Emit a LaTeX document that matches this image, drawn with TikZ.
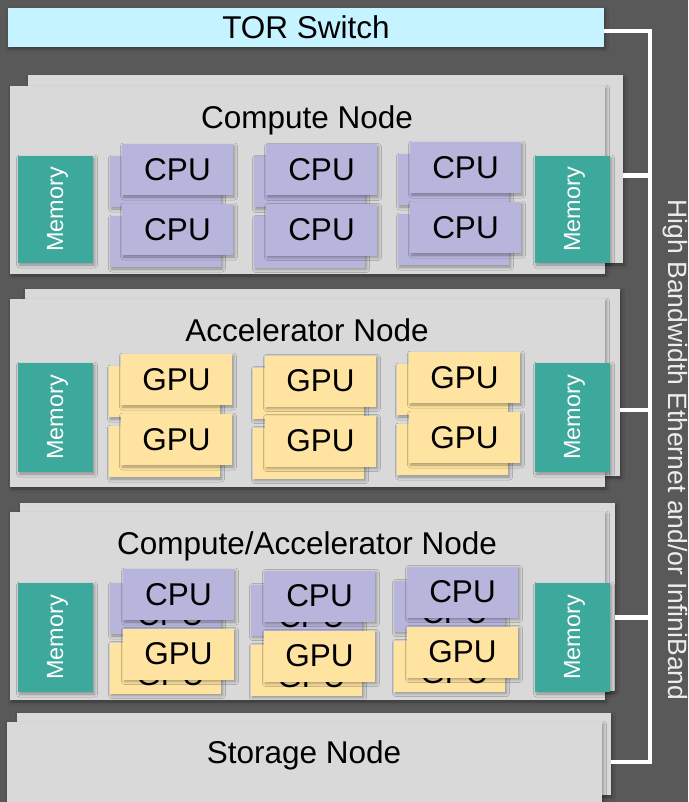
\documentclass[tikz,border=0pt]{standalone}
\usepackage{fontspec}
\setmainfont{Liberation Sans}
\usetikzlibrary{shadows.blur}
\definecolor{bg}{HTML}{595959}
\definecolor{nodegray}{HTML}{D9D9D9}
\definecolor{torcol}{HTML}{C5F3FF}
\definecolor{memcol}{HTML}{3DA89C}
\definecolor{cpucol}{HTML}{B8B5DC}
\definecolor{gpucol}{HTML}{FFE4A1}
\definecolor{buscol}{HTML}{FFFFFF}
\definecolor{bustextcol}{HTML}{EDEDED}
\tikzset{
  base/.style={inner sep=0pt, outer sep=0pt, draw=none},
  sh/.style={blur shadow={shadow xshift=1.5pt, shadow yshift=-2pt, shadow blur radius=3pt, shadow opacity=35}},
  nodebox/.style={base, sh, fill=nodegray, minimum width=595pt, minimum height=188pt},
  titletext/.style={base, font=\fontsize{31.5}{34}\selectfont, text=black, text depth=0pt},
  torbox/.style={base, sh, fill=torcol, minimum width=596pt, minimum height=39pt, font=\fontsize{31.5}{34}\selectfont, text=black},
  membox/.style={base, sh, fill=memcol, minimum width=75pt},
  memtext/.style={base, text=white, font=\fontsize{23.4}{25}\selectfont, rotate=90},
  chip/.style={base, sh, minimum width=111pt, minimum height=51pt, font=\fontsize{31.5}{34}\selectfont, text=black},
  cpu/.style={chip, fill=cpucol},
  gpu/.style={chip, fill=gpucol},
  bus/.style={draw=buscol, line width=4.5pt, line join=miter},
  bustext/.style={base, text=bustextcol, font=\fontsize{26.5}{28}\selectfont, rotate=-90},
}
% front chip with plain back box
\newcommand{\mychip}[5]{%
  \node[#4] (#1b) at (#2-12,#3+12) {};
  \node[#4] (#1) at (#2,#3) {#5};
}
% front chip with labelled back box (compute/accelerator node)
\newcommand{\mychipl}[5]{%
  \node[#4] (#1b) at (#2-13,#3+14) {};
  \node[titletext] (#1bt) at (#2-8,#3+20) {#5};
  \node[#4] (#1) at (#2,#3) {#5};
}
\begin{document}
\begin{tikzpicture}[x=1pt,y=-1pt]
\useasboundingbox (0,0) rectangle (688,802);
\fill[bg] (0,0) rectangle (688,802);

% TOR switch
\node[torbox] (tor) at (306,27.5) {TOR Switch};

% ---------- Compute node ----------
\node[nodebox] (compback) at (325.5,169) {};
\node[nodebox] (comp) at (307.5,180) {};
\node[titletext] (comptitle) at (307,117) {Compute Node};
\node[membox, minimum height=107pt] (compmemL) at (55.5,209.5) {};
\node[memtext] (compmemLt) at ([xshift=2pt]compmemL.center) {Memory};
\node[membox, minimum height=107pt] (compmemR) at (572.5,209.5) {};
\node[memtext] (compmemRt) at ([xshift=2pt]compmemR.center) {Memory};
\mychip{c11}{177.5}{169.5}{cpu}{CPU}
\mychip{c12}{177.5}{229.5}{cpu}{CPU}
\mychip{c21}{321.5}{170}{cpu}{CPU}
\mychip{c22}{321.5}{230}{cpu}{CPU}
\mychip{c31}{465.5}{167.5}{cpu}{CPU}
\mychip{c32}{465.5}{227.5}{cpu}{CPU}

% ---------- Accelerator node ----------
\node[nodebox, minimum height=187pt] (accback) at (322.5,382.5) {};
\node[nodebox] (acc) at (307.5,393) {};
\node[titletext] (acctitle) at (307,330) {Accelerator Node};
\node[membox, minimum height=109pt] (accmemL) at (55.5,417.5) {};
\node[memtext] (accmemLt) at ([xshift=2pt]accmemL.center) {Memory};
\node[membox, minimum height=109pt] (accmemR) at (572.5,417.5) {};
\node[memtext] (accmemRt) at ([xshift=2pt]accmemR.center) {Memory};
\mychip{g11}{176.5}{379.5}{gpu}{GPU}
\mychip{g12}{176.5}{439.5}{gpu}{GPU}
\mychip{g21}{320.5}{381}{gpu}{GPU}
\mychip{g22}{320.5}{441}{gpu}{GPU}
\mychip{g31}{464.5}{377.5}{gpu}{GPU}
\mychip{g32}{464.5}{437.5}{gpu}{GPU}

% ---------- Compute/Accelerator node ----------
\node[nodebox] (caback) at (317.5,597) {};
\node[nodebox] (ca) at (307.5,606) {};
\node[titletext] (catitle) at (307,543) {Compute/Accelerator Node};
\node[membox, minimum height=109pt] (camemL) at (55.5,637.5) {};
\node[memtext] (camemLt) at ([xshift=2pt]camemL.center) {Memory};
\node[membox, minimum height=109pt] (camemR) at (572.5,637.5) {};
\node[memtext] (camemRt) at ([xshift=2pt]camemR.center) {Memory};
\mychipl{x11}{178.5}{594.5}{cpu}{CPU}
\mychipl{x12}{178.5}{654}{gpu}{GPU}
\mychipl{x21}{319.5}{596}{cpu}{CPU}
\mychipl{x22}{319.5}{656}{gpu}{GPU}
\mychipl{x31}{462.5}{592}{cpu}{CPU}
\mychipl{x32}{462.5}{652}{gpu}{GPU}

% ---------- Storage node ----------
\node[nodebox, minimum width=594pt, minimum height=82pt] (storback) at (314,754) {};
\node[nodebox, minimum height=80pt] (stor) at (304.5,762) {};
\node[titletext] (stortitle) at (304,752) {Storage Node};

% ---------- Bus ----------
\coordinate (b0) at (650,31);
\coordinate (b1) at (650,175.5);
\coordinate (b2) at (650,410);
\coordinate (b3) at (650,617.5);
\coordinate (b4) at (650,762);
\draw[bus] ([yshift=-3.5pt]tor.east) -- (b0) -- (b4) -- (storback.east |- b4);
\draw[bus] (compback.east |- b1) -- (b1);
\draw[bus] (accback.east |- b2) -- (b2);
\draw[bus] (caback.east |- b3) -- (b3);
\node[bustext] (buslabel) at (675.5,450) {High Bandwidth Ethernet and/or InfiniBand};
\end{tikzpicture}
\end{document}
